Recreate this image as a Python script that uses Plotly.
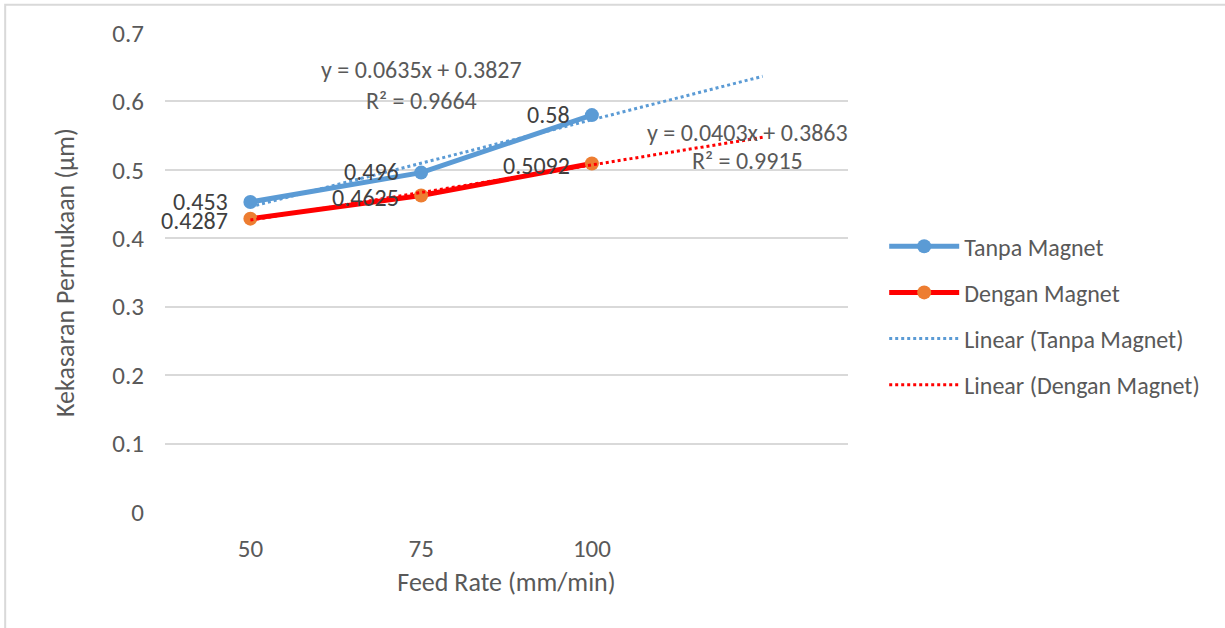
import plotly.graph_objects as go

categories = ["50", "75", "100"]
tanpa = [0.453, 0.496, 0.58]
dengan = [0.4287, 0.4625, 0.5092]
tanpa_labels = ["0.453", "0.496", "0.58"]
dengan_labels = ["0.4287", "0.4625", "0.5092"]
trend_tanpa = (0.0635, 0.3827)
trend_dengan = (0.0403, 0.3863)
eq_tanpa = ["y = 0.0635x + 0.3827", "R² = 0.9664"]
eq_dengan = ["y = 0.0403x + 0.3863", "R² = 0.9915"]
y_ticks = [0, 0.1, 0.2, 0.3, 0.4, 0.5, 0.6, 0.7]

FONT = "Carlito, Calibri, Lato, sans-serif"
GREY = "#595959"
DARK = "#404040"
BLUE = "#5B9BD5"
RED = "#FF0000"
ORANGE = "#ED7D31"

xs = list(range(1, len(categories) + 1))
xt = list(range(1, len(categories) + 2))

fig = go.Figure()
fig.add_trace(go.Scatter(
    x=xs, y=tanpa, name="Tanpa Magnet", mode="lines+markers",
    line=dict(color=BLUE, width=5), marker=dict(color=BLUE, size=14),
    legendgroup="a"))
fig.add_trace(go.Scatter(
    x=xs, y=dengan, name="Dengan Magnet", mode="lines+markers",
    line=dict(color=RED, width=5), marker=dict(color=ORANGE, size=14),
    legendgroup="b"))
fig.add_trace(go.Scatter(
    x=xt, y=[trend_tanpa[0] * x + trend_tanpa[1] for x in xt],
    name="Linear (Tanpa Magnet)", mode="lines",
    line=dict(color=BLUE, width=3, dash="dot"), legendgroup="c"))
fig.add_trace(go.Scatter(
    x=xt, y=[trend_dengan[0] * x + trend_dengan[1] for x in xt],
    name="Linear (Dengan Magnet)", mode="lines",
    line=dict(color=RED, width=3, dash="dot"), legendgroup="d"))

label_font = dict(family=FONT, size=24, color=DARK)
for x, y, t in zip(xs, tanpa, tanpa_labels):
    fig.add_annotation(x=x, y=y, text=t, showarrow=False, xanchor="right",
                       yanchor="middle", xshift=-20, yshift=1, font=label_font)
for x, y, t in zip(xs, dengan, dengan_labels):
    fig.add_annotation(x=x, y=y, text=t, showarrow=False, xanchor="right",
                       yanchor="middle", xshift=-20, yshift=-2, font=label_font)

annot_font = dict(family=FONT, size=24, color=GREY)
fig.add_annotation(x=2.0, y=0.646, text=eq_tanpa[0], showarrow=False, font=annot_font)
fig.add_annotation(x=2.0, y=0.602, text=eq_tanpa[1], showarrow=False, font=annot_font)
fig.add_annotation(x=3.91, y=0.554, text=eq_dengan[0], showarrow=False, font=annot_font)
fig.add_annotation(x=3.91, y=0.514, text=eq_dengan[1], showarrow=False, font=annot_font)

fig.add_shape(type="rect", xref="paper", yref="paper",
              x0=-0.234, y0=-0.28, x1=1.58, y1=1.059,
              line=dict(color="#D9D9D9", width=2), fillcolor="rgba(0,0,0,0)")

fig.update_layout(
    width=1225, height=628,
    margin=dict(l=165, r=377, t=33, b=116),
    paper_bgcolor="white", plot_bgcolor="white",
    font=dict(family=FONT, size=25, color=GREY),
    showlegend=True,
    legend=dict(x=1.053, xanchor="left", y=0.41, yanchor="middle",
                font=dict(family=FONT, size=24, color=GREY),
                itemwidth=70,
                tracegroupgap=12, bgcolor="rgba(0,0,0,0)"),
    xaxis=dict(range=[0.5, 4.5], tickvals=xs, ticktext=categories,
               showgrid=False, zeroline=False, showline=False,
               ticks="", ticklabelstandoff=19, tickfont=dict(size=25, color=GREY),
               title=dict(text="Feed Rate (mm/min)", font=dict(size=26, color=GREY), standoff=9)),
    yaxis=dict(range=[0, 0.7], tickvals=y_ticks, ticktext=[str(t) for t in y_ticks],
               showgrid=True, gridcolor="#D9D9D9", gridwidth=1.5,
               zeroline=False, showline=False, ticks="", ticklabelstandoff=20,
               tickfont=dict(size=25, color=GREY),
               title=dict(text="Kekasaran Permukaan (µm)", font=dict(size=26, color=GREY), standoff=30)),
)
fig.write_html("out.html")
